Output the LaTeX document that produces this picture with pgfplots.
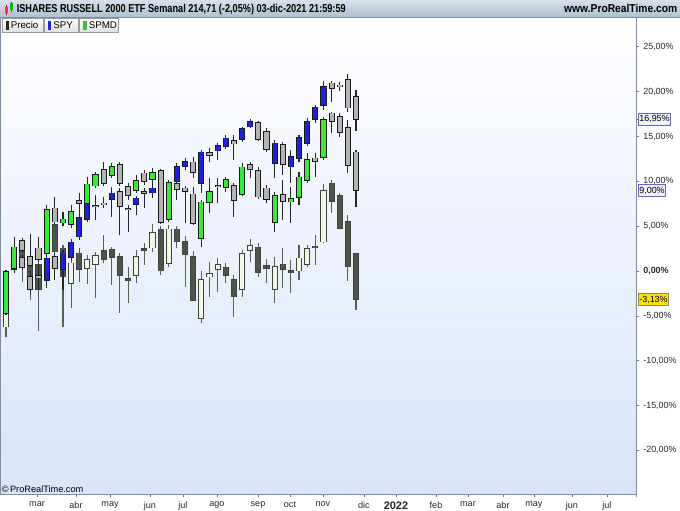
\documentclass[border=0pt]{standalone}
\usepackage{pgfplots}
\pgfplotsset{compat=1.18}
\usepackage{pgfplotstable}
\usepackage{graphicx}
\usepackage{fontspec}
\setmainfont{Liberation Sans}

\definecolor{spyblue}{RGB}{32,32,222}
\definecolor{spmdgreen}{RGB}{58,232,58}
\definecolor{dngray}{RGB}{180,180,180}
\definecolor{prdark}{RGB}{76,84,76}
\definecolor{prlight}{RGB}{243,247,234}
\definecolor{prborder}{RGB}{60,70,56}
\definecolor{prwick}{RGB}{84,96,80}
\definecolor{panelbot}{RGB}{217,227,250}
\definecolor{framecol}{RGB}{125,140,160}
\definecolor{tbtop}{RGB}{214,224,234}
\definecolor{tbbot}{RGB}{176,192,208}

% columns: x open high low close (percent)
\pgfplotstableread{
x o h l c
0 -6.21 -4.57 -7.32 -4.72
1 0.80 2.50 0.50 2.20
2 2.34 2.90 -1.19 1.45
3 0.67 3.46 -3.23 -0.67
4 0.67 1.23 -6.66 -2.01
5 -0.90 1.45 -1.93 1.30
6 5.13 5.69 1.67 2.15
7 2.53 2.90 -6.21 -0.64
8 -1.37 1.23 -4.16 0.86
9 1.97 2.60 -1.26 0.22
10 0.30 1.78 -1.45 1.23
11 0.78 2.15 -3.04 1.67
12 2.23 4.01 0.86 1.30
13 2.34 2.68 -1.56 1.53
14 1.59 2.00 -4.72 -0.45
15 -0.87 0.48 -3.60 -0.98
16 -0.45 2.34 -1.37 1.59
17 2.47 3.09 0.67 2.36
18 2.60 5.24 2.15 4.27
19 4.65 5.02 -0.45 0.03
20 0.86 5.13 0.48 4.65
21 4.65 5.02 2.53 3.27
22 3.27 3.90 -1.75 1.90
23 1.59 2.26 -3.34 -3.23
24 -5.27 0.03 -5.83 -1.00
25 -0.64 1.04 -2.87 -0.33
26 0.22 1.42 -2.31 0.67
27 0.41 0.86 -1.37 -0.45
28 -1.00 -0.45 -5.09 -2.87
29 -2.04 2.34 -2.87 1.90
30 2.34 3.53 1.04 2.79
31 2.64 3.12 -0.64 -0.14
32 0.56 1.30 -1.37 0.30
33 -2.01 1.59 -3.60 0.48
34 0.75 2.53 -1.93 0.19
35 0.03 1.23 -2.49 -0.19
36 0.03 2.90 -1.00 1.42
37 0.78 2.90 0.48 2.45
38 2.76 4.01 0.67 2.65
39 3.27 9.67 3.09 8.92
40 9.78 10.14 6.43 7.80
41 8.36 8.70 4.68 4.76
42 5.50 6.24 -1.11 0.48
43 1.90 1.97 -4.35 -3.13
}\precio

\pgfplotstableread{
x o h l c
0 -3.50 -0.20 -4.00 -0.50
1 0.22 1.00 -0.11 0.41
2 1.45 1.78 0.11 0.41
3 -0.67 0.00 -2.68 -2.04
4 -0.56 0.67 -2.12 -0.67
5 -1.00 1.78 -1.93 1.42
6 1.59 2.00 -1.00 0.30
7 0.20 2.34 -2.12 1.97
8 1.53 3.57 1.23 3.20
9 3.82 6.35 3.46 5.94
10 5.80 7.92 5.46 7.55
11 7.30 8.47 5.69 7.19
12 7.53 8.28 6.99 7.41
13 7.99 9.40 6.05 8.66
14 8.84 9.25 4.01 7.25
15 6.97 7.36 4.38 6.86
16 7.44 8.36 6.24 8.10
17 8.83 9.25 7.02 8.72
18 8.73 9.59 8.14 9.22
19 9.25 9.59 6.24 7.36
20 7.36 10.14 7.02 9.59
21 10.03 12.04 9.59 11.63
22 11.71 12.60 11.26 12.19
23 12.12 12.68 10.37 11.00
24 9.78 13.49 8.66 13.23
25 13.19 13.75 12.19 12.93
26 13.41 14.27 12.37 13.94
27 13.94 15.16 13.60 14.79
28 14.49 15.16 12.37 14.19
29 14.68 16.09 14.38 15.83
30 16.09 16.91 15.91 16.64
31 16.53 16.72 14.49 14.68
32 15.53 15.94 13.27 13.57
33 12.01 14.60 10.33 14.24
34 14.05 14.38 10.70 11.93
35 11.63 13.49 9.78 12.74
36 12.56 15.16 12.15 14.86
37 14.24 17.06 13.94 16.64
38 16.91 18.51 16.50 18.25
39 18.51 21.18 17.95 20.55
40 20.93 21.18 18.87 20.37
41 20.69 21.10 20.07 20.62
42 21.29 21.93 17.76 18.21
43 19.43 20.18 15.64 16.95
}\spy

\pgfplotstableread{
x o h l c
0 -4.72 0.11 -4.90 -0.08
1 0.30 3.76 -0.26 2.64
2 3.34 3.71 2.10 2.34
3 1.59 4.12 0.50 0.67
4 2.53 3.82 1.00 1.30
5 1.97 7.36 1.78 6.80
6 6.99 8.22 5.24 5.50
7 5.38 6.58 5.00 5.76
8 5.24 7.36 4.79 6.61
9 7.80 8.66 6.24 7.55
10 7.55 10.51 7.25 9.67
11 9.51 11.07 9.25 10.70
12 11.26 12.12 9.48 9.78
13 10.70 12.04 10.37 11.63
14 11.82 12.15 9.48 9.78
15 9.40 9.81 7.92 8.47
16 9.03 10.70 8.70 10.03
17 10.89 11.26 9.59 10.03
18 10.22 11.48 9.59 10.96
19 11.15 11.37 5.24 5.43
20 5.76 10.14 5.46 9.84
21 9.70 10.03 7.92 9.11
22 9.22 9.48 5.32 8.89
23 8.55 9.33 5.13 5.32
24 3.65 7.92 2.71 7.66
25 7.66 10.33 6.43 8.84
26 9.53 10.40 7.55 9.42
27 9.33 10.51 8.84 10.14
28 9.51 9.81 5.99 7.92
29 8.58 12.01 8.36 11.56
30 11.82 12.19 10.33 11.37
31 11.18 11.59 8.03 8.28
32 9.22 9.59 7.55 8.03
33 5.43 8.81 4.38 8.39
34 8.47 10.14 5.69 7.80
35 7.73 9.40 5.32 8.03
36 8.22 11.04 7.36 10.45
37 10.14 13.12 9.78 12.37
38 12.56 13.12 10.51 12.26
39 12.68 17.17 12.37 16.83
40 17.58 17.76 15.35 16.72
41 17.20 17.58 14.97 15.46
42 15.98 16.83 10.89 11.82
43 13.23 13.49 7.17 9.00
}\spmd

\pgfplotsset{
  candlebase/.style={draw=none, fill=none, mark=none, forget plot},
  wick/.style={candlebase, error bars/.cd, y dir=both, y explicit, error mark=none,
     error bar style={draw=#1, solid, line width=0.8pt}},
  bodyout/.style={candlebase, error bars/.cd, y dir=both, y explicit, error mark=none,
     error bar style={draw=#1, solid, line width=4.6pt}},
  bodyin/.style={candlebase, error bars/.cd, y dir=both, y explicit, error mark=none,
     error bar style={draw=#1, solid, line width=3.1pt}},
}
\newcommand{\candles}[5]{% table, wickcol, bordercol, upcol, downcol
  \addplot[wick=#2] table[x=x, y expr={(\thisrow{h}+\thisrow{l})/2},
     y error expr={(\thisrow{h}-\thisrow{l})/2}] {#1};
  \addplot[bodyout=#3] table[x=x, y expr={(\thisrow{o}+\thisrow{c})/2},
     y error expr={abs(\thisrow{o}-\thisrow{c})/2+0.08}] {#1};
  \addplot[restrict expr to domain={\thisrow{c}-\thisrow{o}}{0:1000}, bodyin=#4]
     table[x=x, y expr={(\thisrow{o}+\thisrow{c})/2},
     y error expr={abs(\thisrow{o}-\thisrow{c})/2}] {#1};
  \addplot[restrict expr to domain={\thisrow{c}-\thisrow{o}}{-1000:-0.00001}, bodyin=#5]
     table[x=x, y expr={(\thisrow{o}+\thisrow{c})/2},
     y error expr={abs(\thisrow{o}-\thisrow{c})/2}] {#1};
}

\begin{document}
\begin{tikzpicture}
\fill[white] (0,0) rectangle (510pt,-382.5pt);
\useasboundingbox (0,0) rectangle (510pt,-382.5pt);
\begin{axis}[
  at={(0pt,-370.5pt)}, anchor=south west,
  width=477pt, height=357.75pt, scale only axis,
  xmin=-0.737, xmax=77.40, ymin=-24.86, ymax=28.32,
  axis line style={draw=none},
  axis background/.style={top color=white, bottom color=panelbot},
  xtick pos=left, ytick pos=right, yticklabel pos=right,
  tick align=outside, major tick length=2.25pt,
  tick style={draw=black!55, line width=0.5pt},
  ytick={-20,-15,-10,-5,0,5,10,15,20,25},
  yticklabels={{-20,00\%},{-15,00\%},{-10,00\%},{-5,00\%},{\bfseries 0,00\%},{5,00\%},{10,00\%},{15,00\%},{20,00\%},{25,00\%}},
  xtick={3.81,8.60,12.78,17.69,21.74,25.92,30.96,34.89,38.94,43.98,47.91,52.83,56.76,61.06,64.86,69.53,73.83},
  xticklabels={mar,abr,may,jun,jul,ago,sep,oct,nov,dic,{\bfseries\fontsize{8.2pt}{9pt}\selectfont 2022},feb,mar,abr,may,jun,jul},
  yticklabel style={font=\fontsize{6.7pt}{7pt}\selectfont, xshift=-0.3pt, text=black!85},
  xticklabel style={font=\fontsize{6.8pt}{7pt}\selectfont, text=black!85},
  /pgf/number format/assume math mode=true,
  clip mode=individual,
]
\candles{\precio}{prwick}{prborder}{prlight}{prdark}
\candles{\spy}{black!85}{black!90}{spyblue}{dngray}
\candles{\spmd}{black!85}{black!90}{spmdgreen}{dngray}
\end{axis}
\begin{scope}[x=0.75pt,y=-0.75pt]
  % title bar
  \fill[top color=tbtop, bottom color=tbbot] (0,0) rectangle (680,17);
  \draw[framecol] (0,17) -- (680,17);
  % icon
  \draw[red!70!black] (6,5) -- (6,15);
  \fill[red!80] (4.5,7) rectangle (7.5,13);
  \draw[green!50!black] (11,2) -- (11,12);
  \fill[green!75!black] (9.5,3.5) rectangle (12.5,10);
  \node[anchor=base west, inner sep=0] at (16.5,12.6)
    {\resizebox{246.75pt}{\height}{\fontsize{8.6pt}{9pt}\selectfont\bfseries ISHARES RUSSELL 2000 ETF Semanal 214,71 (-2,05\%) 03-dic-2021 21:59:59}};
  \node[anchor=base east, inner sep=0] at (677.5,12.6)
    {\resizebox{84.75pt}{\height}{\fontsize{8.6pt}{9pt}\selectfont\bfseries www.ProRealTime.com}};
  % legend boxes
  \foreach \a/\b in {2/43,44/78,79/118}{
    \draw[black!40, top color=white, bottom color=black!12] (\a,18.5) rectangle (\b,32);
  }
  \fill[black!85] (5.5,21) rectangle (8.5,30);
  \fill[spyblue] (47.5,21) rectangle (50.5,30);
  \fill[green!45!gray] (82.5,21) rectangle (86.5,30);
  \node[anchor=base west, inner sep=0, font=\fontsize{7.3pt}{8pt}\selectfont] at (10.5,29) {Precio};
  \node[anchor=base west, inner sep=0, font=\fontsize{7.3pt}{8pt}\selectfont] at (53,29) {SPY};
  \node[anchor=base west, inner sep=0, font=\fontsize{7.3pt}{8pt}\selectfont] at (88.5,29) {SPMD};
  % frame lines
  \draw[framecol, line width=0.6pt] (636,17) -- (636,497);
  \draw[framecol, line width=0.6pt] (0,494) -- (636,494);
  \draw[framecol, line width=0.8pt] (0.4,17) -- (0.4,494);
  % copyright
  \node[anchor=base west, inner sep=0, font=\fontsize{6.9pt}{8pt}\selectfont] at (1.5,492) {\textcopyright\,ProRealTime.com};
  % value boxes
  \draw[black!55, line width=0.5pt] (636,119) -- (639,119);
  \node[draw=black!45!blue!60, fill=blue!6, inner sep=0.8pt, anchor=west, font=\fontsize{6.7pt}{7pt}\selectfont, minimum height=9pt] at (638,119) {16,95\%};
  \node[draw=black!45!blue!60, fill=blue!6, inner sep=0.8pt, anchor=west, font=\fontsize{6.7pt}{7pt}\selectfont, minimum height=9pt] at (638,190.5) {9,00\%};
  \node[draw=yellow!50!black, fill=yellow!85!orange, inner sep=0.8pt, anchor=west, font=\fontsize{6.7pt}{7pt}\selectfont, minimum height=9pt] at (638,299.5) {-3,13\%};
\end{scope}
\end{tikzpicture}
\end{document}
